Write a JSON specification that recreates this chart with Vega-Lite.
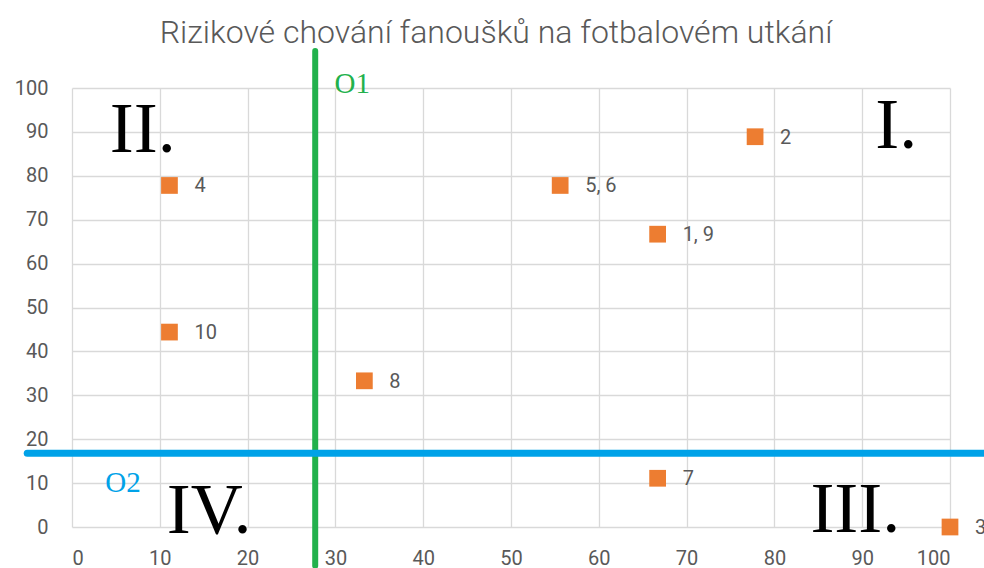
{
  "$schema": "https://vega.github.io/schema/vega-lite/v6.json",
  "width": 878,
  "height": 439,
  "autosize": {"type": "none"},
  "padding": {"left": 72, "top": 88, "right": 34, "bottom": 41},
  "background": "white",
  "title": {
    "text": "Rizikové chování fanoušků na fotbalovém utkání",
    "font": "Roboto",
    "fontSize": 32,
    "fontWeight": 300,
    "color": "#595959",
    "anchor": "middle",
    "dx": -15,
    "dy": 32,
    "offset": 30
  },
  "config": {
    "view": {"stroke": null},
    "axis": {
      "grid": true,
      "gridColor": "#D9D9D9",
      "gridWidth": 1.3,
      "domain": false,
      "ticks": false,
      "labelFont": "Roboto",
      "labelFontSize": 20,
      "labelColor": "#595959",
      "title": null
    }
  },
  "layer": [
    {
      "data": {"values": [
        {"x": 11.1, "y": 77.8, "label": "4"},
        {"x": 11.1, "y": 44.4, "label": "10"},
        {"x": 33.3, "y": 33.3, "label": "8"},
        {"x": 55.6, "y": 77.8, "label": "5, 6"},
        {"x": 66.7, "y": 66.7, "label": "1, 9"},
        {"x": 77.8, "y": 88.9, "label": "2"},
        {"x": 66.7, "y": 11.1, "label": "7"},
        {"x": 100, "y": 0, "label": "3"}
      ]},
      "layer": [
        {
          "mark": {"type": "square", "size": 280, "color": "#ED7D31", "opacity": 1, "filled": true, "clip": false},
          "encoding": {
            "x": {"field": "x", "type": "quantitative", "scale": {"domain": [0, 100], "nice": false},
              "axis": {"values": [0,10,20,30,40,50,60,70,80,90,100], "labelPadding": 21}},
            "y": {"field": "y", "type": "quantitative", "scale": {"domain": [0, 100], "nice": false},
              "axis": {"values": [0,10,20,30,40,50,60,70,80,90,100], "labelPadding": 24}}
          }
        },
        {
          "mark": {"type": "text", "align": "left", "baseline": "middle", "dx": 25, "dy": 1, "font": "Roboto", "fontSize": 20, "color": "#595959", "clip": false},
          "encoding": {
            "x": {"field": "x", "type": "quantitative"},
            "y": {"field": "y", "type": "quantitative"},
            "text": {"field": "label"}
          }
        }
      ]
    },
    {
      "data": {"values": [{"x": 27.7, "y": -8.8, "y2": 108.4}]},
      "mark": {"type": "rule", "color": "#22B14C", "strokeWidth": 6, "strokeCap": "round", "clip": false},
      "encoding": {
        "x": {"field": "x", "type": "quantitative"},
        "y": {"field": "y", "type": "quantitative"},
        "y2": {"field": "y2"}
      }
    },
    {
      "data": {"values": [{"x": -5.1, "x2": 104, "y": 16.8}]},
      "mark": {"type": "rule", "color": "#00A2E8", "strokeWidth": 7, "strokeCap": "round", "clip": false},
      "encoding": {
        "x": {"field": "x", "type": "quantitative"},
        "x2": {"field": "x2"},
        "y": {"field": "y", "type": "quantitative"}
      }
    },
    {
      "data": {"values": [
        {"x": 29.9, "y": 98.9, "label": "O1", "c": "O1"},
        {"x": 3.8, "y": 8.0, "label": "O2", "c": "O2"}
      ]},
      "mark": {"type": "text", "align": "left", "baseline": "alphabetic", "font": "Liberation Serif", "fontSize": 29, "clip": false},
      "encoding": {
        "x": {"field": "x", "type": "quantitative"},
        "y": {"field": "y", "type": "quantitative"},
        "text": {"field": "label"},
        "color": {"field": "c", "type": "nominal", "scale": {"domain": ["O1", "O2"], "range": ["#22B14C", "#00A2E8"]}, "legend": null}
      }
    },
    {
      "data": {"values": [
        {"x": 4.3, "y": 85.5, "label": "II."},
        {"x": 91.5, "y": 86.3, "label": "I."},
        {"x": 84.1, "y": -1.1, "label": "III."},
        {"x": 10.8, "y": -1.4, "label": "IV."}
      ]},
      "mark": {"type": "text", "align": "left", "baseline": "alphabetic", "font": "Liberation Serif", "fontSize": 72, "color": "#000000", "clip": false},
      "encoding": {
        "x": {"field": "x", "type": "quantitative"},
        "y": {"field": "y", "type": "quantitative"},
        "text": {"field": "label"}
      }
    }
  ]
}
